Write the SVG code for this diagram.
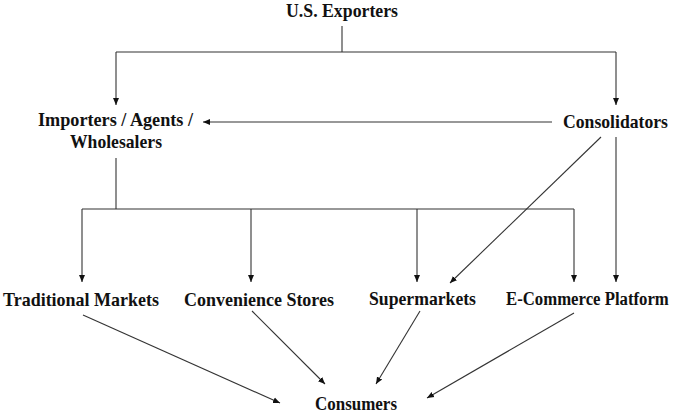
<svg xmlns="http://www.w3.org/2000/svg" width="680" height="413" viewBox="0 0 680 413">
<style>
text{font-family:"Liberation Serif","Times New Roman",serif;font-weight:bold;font-size:19px;fill:#111}
.c line,.c polyline{stroke:#333;stroke-width:1.1;fill:none}
</style>
<defs>
<marker id="ah" markerUnits="userSpaceOnUse" markerWidth="8" markerHeight="8" refX="7" refY="4" orient="auto">
<path d="M0,1 L7,4 L0,7 Z" fill="#111"/>
</marker>
</defs>
<rect width="680" height="413" fill="#fff"/>
<g class="c" id="connectors">
<line x1="342" y1="26" x2="342" y2="52"/>
<line x1="116" y1="52" x2="616" y2="52"/>
<line x1="116" y1="52" x2="116" y2="105" marker-end="url(#ah)"/>
<line x1="616" y1="52" x2="616" y2="105" marker-end="url(#ah)"/>
<line x1="552" y1="122" x2="203" y2="122" marker-end="url(#ah)"/>
<line x1="116" y1="158" x2="116" y2="209"/>
<line x1="82" y1="209" x2="574" y2="209"/>
<line x1="82" y1="209" x2="82" y2="282" marker-end="url(#ah)"/>
<line x1="251" y1="209" x2="251" y2="282" marker-end="url(#ah)"/>
<line x1="417" y1="209" x2="417" y2="282" marker-end="url(#ah)"/>
<line x1="574" y1="209" x2="574" y2="282" marker-end="url(#ah)"/>
<line x1="601" y1="137" x2="450" y2="283" marker-end="url(#ah)"/>
<line x1="616" y1="137" x2="616" y2="282" marker-end="url(#ah)"/>
<line x1="83" y1="315" x2="280" y2="403" marker-end="url(#ah)"/>
<line x1="252" y1="311" x2="325" y2="384" marker-end="url(#ah)"/>
<line x1="420" y1="311" x2="376" y2="384" marker-end="url(#ah)"/>
<line x1="574" y1="313" x2="427" y2="398" marker-end="url(#ah)"/>
</g>
<g id="exporters"><text x="286" y="17" textLength="112" lengthAdjust="spacingAndGlyphs">U.S. Exporters</text></g>
<g id="importers"><text x="38" y="126" textLength="155" lengthAdjust="spacingAndGlyphs">Importers / Agents /</text><text x="70" y="148" textLength="92" lengthAdjust="spacingAndGlyphs">Wholesalers</text></g>
<g id="consolidators"><text x="563" y="128" textLength="105" lengthAdjust="spacingAndGlyphs">Consolidators</text></g>
<g id="traditional"><text x="3" y="306" textLength="156" lengthAdjust="spacingAndGlyphs">Traditional Markets</text></g>
<g id="convenience"><text x="184" y="306" textLength="150" lengthAdjust="spacingAndGlyphs">Convenience Stores</text></g>
<g id="supermarkets"><text x="369" y="305" textLength="107" lengthAdjust="spacingAndGlyphs">Supermarkets</text></g>
<g id="ecommerce"><text transform="translate(506,305) scale(0.88,1)" x="0" y="0" textLength="185" lengthAdjust="spacingAndGlyphs">E-Commerce Platform</text></g>
<g id="consumers"><text x="315" y="410" textLength="82" lengthAdjust="spacingAndGlyphs">Consumers</text></g>
</svg>
